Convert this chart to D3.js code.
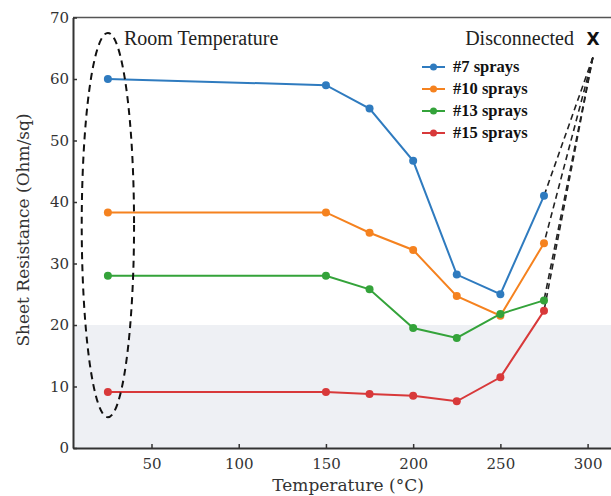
<!DOCTYPE html>
<html>
<head>
<meta charset="utf-8">
<script src="https://cdn.jsdelivr.net/npm/d3@7"></script>
<style>
  body { margin: 0; background: #fff; }
  svg { display: block; }
</style>
</head>
<body>
<svg id="chart" width="611" height="496"></svg>
<script>
// temperatures (°C) and sheet resistance per spray count
const temps = [25, 150, 175, 200, 225, 250, 275];
const sprays7 = [60, 59, 55.2, 46.7, 28.2, 25, 41];
const sprays10 = [38.3, 38.3, 35, 32.2, 24.7, 21.5, 33.3];
const sprays13 = [28, 28, 25.8, 19.5, 17.9, 21.8, 24];
const sprays15 = [9.1, 9.1, 8.8, 8.5, 7.6, 11.5, 22.3];
const seriesNames = ["#7 sprays", "#10 sprays", "#13 sprays", "#15 sprays"];
const seriesColors = ["#2f7bbf", "#f5821f", "#34a33a", "#d8393a"];
const xTicks = [50, 100, 150, 200, 250, 300];
const yTicks = [0, 10, 20, 30, 40, 50, 60, 70];

const allSeries = [sprays7, sprays10, sprays13, sprays15];

const svg = d3.select("#chart");
const plotLeft = 73, plotRight = 619, plotTop = 17.5, plotBottom = 448;

const x = d3.scaleLinear().domain([5, 318]).range([plotLeft, plotRight]);
const y = d3.scaleLinear().domain([0, 70]).range([plotBottom, plotTop]);

// light band for values below 20
svg.append("rect")
    .attr("x", plotLeft).attr("y", y(20))
    .attr("width", plotRight - plotLeft).attr("height", y(0) - y(20))
    .attr("fill", "#eef0f4");

// top frame
svg.append("line")
    .attr("x1", plotLeft).attr("x2", plotRight)
    .attr("y1", plotTop).attr("y2", plotTop)
    .attr("stroke", "#555").attr("stroke-width", 1.5);

const serif = "'DejaVu Serif', serif";

// axes with short inward ticks
const xAxis = svg.append("g")
    .attr("transform", `translate(0,${plotBottom})`)
    .call(d3.axisBottom(x).tickValues(xTicks).tickSize(-4).tickSizeOuter(0).tickPadding(10));
const yAxis = svg.append("g")
    .attr("transform", `translate(${plotLeft},0)`)
    .call(d3.axisLeft(y).tickValues(yTicks).tickSize(-4).tickSizeOuter(0).tickPadding(4));

[xAxis, yAxis].forEach(g => {
    g.select(".domain").attr("stroke", "#333").attr("stroke-width", 2);
    g.selectAll(".tick line").attr("stroke", "#333").attr("stroke-width", 1.5);
    g.selectAll(".tick text")
        .attr("fill", "#333")
        .style("font-family", serif)
        .style("font-size", "15px");
});

// axis titles
svg.append("text")
    .attr("x", 348).attr("y", 491)
    .attr("text-anchor", "middle")
    .style("font-family", serif).style("font-size", "17px")
    .attr("fill", "#333")
    .text("Temperature (°C)");

svg.append("text")
    .attr("transform", "translate(29,230) rotate(-90)")
    .attr("text-anchor", "middle")
    .style("font-family", serif).style("font-size", "17px")
    .attr("fill", "#333")
    .text("Sheet Resistance (Ohm/sq)");

// dashed lines to the "Disconnected" marker
const lastIdx = temps.length - 1;
allSeries.forEach(vals => {
    svg.append("line")
        .attr("x1", x(303)).attr("y1", y(63.5))
        .attr("x2", x(temps[lastIdx])).attr("y2", y(vals[lastIdx]))
        .attr("stroke", "#222").attr("stroke-width", 1.6)
        .attr("stroke-dasharray", "6,4");
});

// series
const line = d3.line()
    .x((d, i) => x(temps[i]))
    .y(d => y(d));

allSeries.forEach((vals, k) => {
    svg.append("path")
        .datum(vals)
        .attr("d", line)
        .attr("fill", "none")
        .attr("stroke", seriesColors[k])
        .attr("stroke-width", 2);
    svg.append("g").selectAll("circle")
        .data(vals)
        .enter().append("circle")
        .attr("cx", (d, i) => x(temps[i]))
        .attr("cy", d => y(d))
        .attr("r", 4)
        .attr("fill", seriesColors[k]);
});

// room temperature ellipse
svg.append("ellipse")
    .attr("cx", x(25)).attr("cy", y(36.25))
    .attr("rx", x(40) - x(25)).attr("ry", y(5) - y(36.25))
    .attr("fill", "none")
    .attr("stroke", "#111").attr("stroke-width", 2)
    .attr("stroke-dasharray", "7,5");

const times = "'Liberation Serif', 'Times New Roman', serif";

svg.append("text")
    .attr("x", 124).attr("y", 45)
    .style("font-family", times).style("font-size", "20px")
    .attr("fill", "#222")
    .text("Room Temperature");

svg.append("text")
    .attr("x", 574).attr("y", 45)
    .attr("text-anchor", "end")
    .style("font-family", times).style("font-size", "20px")
    .attr("fill", "#222")
    .text("Disconnected");

svg.append("text")
    .attr("x", 593).attr("y", 45)
    .attr("text-anchor", "middle")
    .style("font-family", "'DejaVu Sans', sans-serif").style("font-size", "17px")
    .style("font-weight", "bold")
    .attr("fill", "#111")
    .text("X");

// legend
const legend = svg.append("g").attr("transform", "translate(422,67)");
seriesNames.forEach((name, k) => {
    const row = legend.append("g").attr("transform", `translate(0,${k * 22})`);
    row.append("line")
        .attr("x1", 0).attr("x2", 23)
        .attr("stroke", seriesColors[k]).attr("stroke-width", 2);
    row.append("circle")
        .attr("cx", 11.5).attr("r", 3.5)
        .attr("fill", seriesColors[k]);
    row.append("text")
        .attr("x", 31).attr("y", 5)
        .style("font-family", times).style("font-size", "16.5px")
        .style("font-weight", "bold")
        .attr("fill", "#111")
        .text(name);
});
</script>
</body>
</html>
